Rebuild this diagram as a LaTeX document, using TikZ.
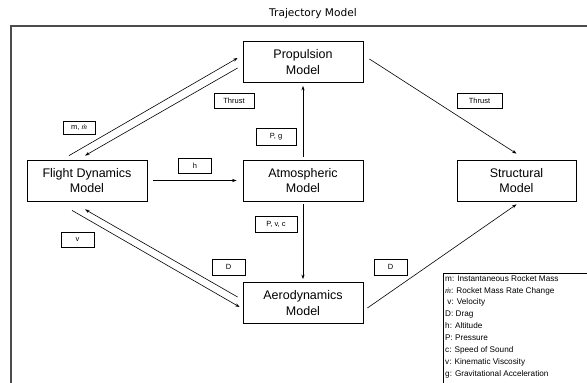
\documentclass[tikz,border=0pt]{standalone}
\usepackage{fontspec}
\setmainfont{Liberation Sans}
\newfontfamily\titlefont{DejaVu Sans}
\newfontfamily\mdotfont{Liberation Serif}
\newcommand{\mdotsym}{{\mdotfont\itshape ṁ}}
\usetikzlibrary{arrows.meta,calc}
\begin{document}
\begin{tikzpicture}[x=1pt,y=-1pt,
  model/.style={draw=black,line width=0.8pt,minimum width=120pt,minimum height=41pt,inner sep=0pt,align=center,font=\fontsize{12.5}{15.5}\selectfont},
  lbl/.style={draw=black,line width=0.6pt,inner sep=0pt,font=\fontsize{7.5}{9}\selectfont},
  conn/.style={line width=0.6pt,-{Stealth[length=4.5pt,width=3.2pt]}}]
\useasboundingbox (0,0) rectangle (587,383);
\clip (0,0) rectangle (587,383);
% frame and title
\draw[line width=1.2pt,draw=black!70] (11,400) -- (11,26) -- (620,26);
\node[font=\titlefont\fontsize{10.6}{12}\selectfont] (title) at (313,14) {Trajectory Model};
% models
\node[model] (prop) at (303,62) {Propulsion\\Model};
\node[model] (fd) at (87,180.5) {Flight Dynamics\\Model};
\node[model] (atm) at (303,180.5) {Atmospheric\\Model};
\node[model,minimum width=119pt] (str) at (516.5,180.5) {Structural\\Model};
\node[model] (aero) at (303,303) {Aerodynamics\\Model};
% labels
\node[lbl,minimum width=32pt,minimum height=13pt] (lm) at (79,127.5) {m, \mdotsym};
\node[lbl,minimum width=40pt,minimum height=15pt] (lt1) at (234,100.5) {Thrust};
\node[lbl,minimum width=40pt,minimum height=17pt] (lpg) at (276,137) {P, g};
\node[lbl,minimum width=33pt,minimum height=15pt] (lh) at (195,165.5) {h};
\node[lbl,minimum width=45pt,minimum height=15pt] (lt2) at (479.5,100.5) {Thrust};
\node[lbl,minimum width=42pt,minimum height=16pt] (lpvc) at (276,224) {P, v, c};
\node[lbl,minimum width=33pt,minimum height=15pt] (lv) at (77.5,239.5) {v};
\node[lbl,minimum width=33pt,minimum height=16pt] (ld1) at (228.5,267) {D};
\node[lbl,minimum width=33pt,minimum height=16pt] (ld2) at (390.5,267) {D};
% connectors
\draw[conn] ([xshift=-18pt,yshift=4pt]fd.north) -- ([xshift=-5pt,yshift=4pt]prop.west);
\draw[conn] ([xshift=-5pt,yshift=-6pt]prop.west) -- ([xshift=-2pt,yshift=4pt]fd.north);
\draw[conn] ([xshift=6pt]fd.east) -- ([xshift=-6pt]atm.west);
\draw[conn] ([yshift=3pt]atm.north) -- ([yshift=-3pt]prop.south);
\draw[conn] ([xshift=6pt,yshift=3pt]prop.east) -- ([yshift=6pt]str.north);
\draw[conn] ([yshift=-3pt]atm.south) -- ([yshift=3pt]aero.north);
\draw[conn] ([xshift=-5pt,yshift=6pt]aero.west) -- ([xshift=-2pt,yshift=-8pt]fd.south);
\draw[conn] ([xshift=-15pt,yshift=-9pt]fd.south) -- ([xshift=-3pt,yshift=-4pt]aero.west);
\draw[conn] ([xshift=4pt,yshift=-5pt]aero.east) -- ([yshift=-3pt]str.south);
% legend
\draw[line width=0.8pt] (600,273) -- (443,273) -- (443,400);
\node[anchor=north west,align=left,inner sep=0pt,font=\fontsize{8.2}{11.9}\selectfont] (legend) at (445,275) {m: Instantaneous Rocket Mass\\
\mdotsym: Rocket Mass Rate Change\\
\ v: Velocity\\
D: Drag\\
h: Altitude\\
P: Pressure\\
c: Speed of Sound\\
v: Kinematic Viscosity\\
g: Gravitational Acceleration};
\end{tikzpicture}
\end{document}
